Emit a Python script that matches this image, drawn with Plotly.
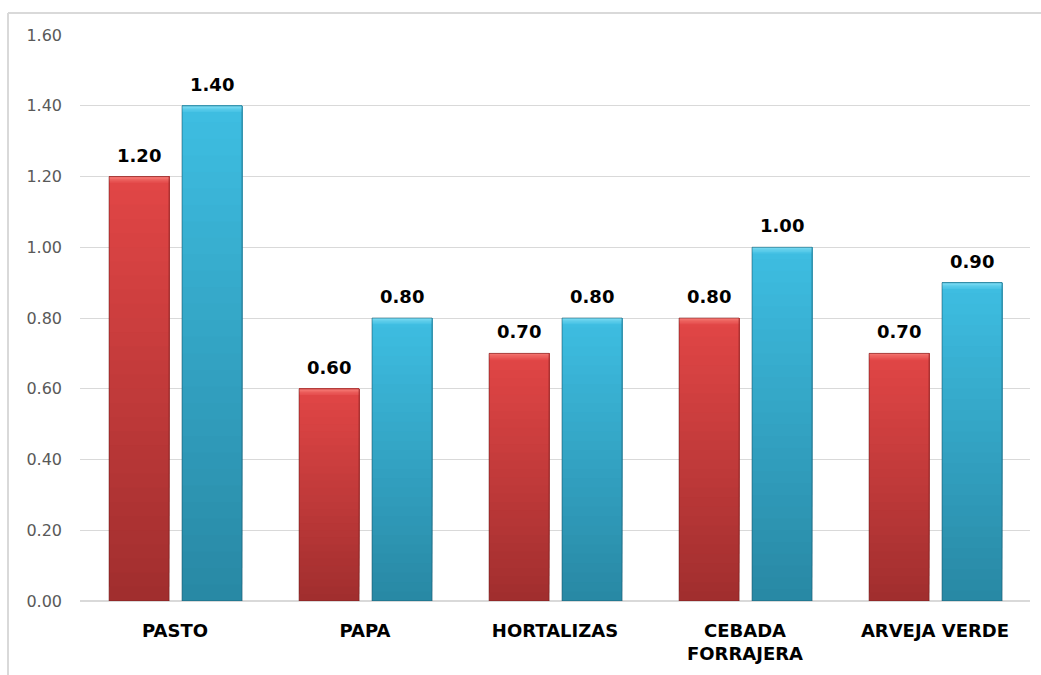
import plotly.graph_objects as go

# Data
categories = ["PASTO", "PAPA", "HORTALIZAS", "CEBADA<br>FORRAJERA", "ARVEJA VERDE"]
serie_roja = [1.20, 0.60, 0.70, 0.80, 0.70]
serie_azul = [1.40, 0.80, 0.80, 1.00, 0.90]
y_ticks = [0.0, 0.2, 0.4, 0.6, 0.8, 1.0, 1.2, 1.4, 1.6]

# Styling
W, H = 1041, 675
ML, MR, MT, MB = 80, 11, 35, 71
BAR_W = 0.316
OFFSETS = {"roja": -0.347, "azul": 0.037}
N_SEG = 30
HILITE = 0.018

palette = {
    "roja": {"bottom": (160, 46, 46), "top": (226, 70, 70), "hi": (242, 112, 108), "edge": "rgba(110,25,25,0.55)"},
    "azul": {"bottom": (40, 136, 164), "top": (62, 190, 226), "hi": (112, 214, 240), "edge": "rgba(20,80,100,0.55)"},
}


def mix(a, b, t):
    return "rgb({},{},{})".format(*[round(a[i] + (b[i] - a[i]) * t) for i in range(3)])


fig = go.Figure()


def add_series(key, values):
    pal = palette[key]
    off = OFFSETS[key]
    # vertical gradient: overlapping layers, each one running from its base to the bar top
    for k in range(N_SEG):
        t = (k + 0.5) / N_SEG
        fig.add_trace(go.Bar(
            x=categories,
            y=[v * (1 - k / N_SEG) for v in values],
            base=[v * k / N_SEG for v in values],
            offset=off, width=BAR_W,
            marker=dict(color=mix(pal["bottom"], pal["top"], t), line=dict(width=0)),
            hoverinfo="skip", showlegend=False,
        ))
    # bevel highlight along the top edge, fading upwards
    steps = 4
    for j in range(steps):
        h = HILITE * (steps - j) / steps
        fig.add_trace(go.Bar(
            x=categories,
            y=[h] * len(values),
            base=[v - h for v in values],
            offset=off, width=BAR_W,
            marker=dict(color=mix(pal["top"], pal["hi"], (j + 1) / steps), line=dict(width=0)),
            hoverinfo="skip", showlegend=False,
        ))
    # outline
    fig.add_trace(go.Bar(
        x=categories, y=values,
        offset=off, width=BAR_W,
        marker=dict(color="rgba(0,0,0,0)", line=dict(width=1, color=pal["edge"])),
        hovertemplate="%{x}: %{y:.2f}<extra></extra>", showlegend=False,
    ))
    # value labels
    shift = (off + BAR_W / 2) * (W - ML - MR) / len(categories)
    for c, v in zip(categories, values):
        fig.add_annotation(
            x=c, y=v, text="<b>{:.2f}</b>".format(v), showarrow=False,
            xshift=shift, yshift=9, yanchor="bottom",
            font=dict(family="DejaVu Sans", size=18, color="#000000"),
        )


add_series("roja", serie_roja)
add_series("azul", serie_azul)

# outer frame lines (top and left)
pw, ph = W - ML - MR, H - MT - MB
px = lambda p: (p - ML) / pw
py = lambda p: (H - MB - p) / ph
frame = dict(color="#D9D9D9", width=2)
fig.add_shape(type="line", xref="paper", yref="paper", x0=px(8), x1=px(W + 5), y0=py(13), y1=py(13), line=frame)
fig.add_shape(type="line", xref="paper", yref="paper", x0=px(8), x1=px(8), y0=py(13), y1=py(H + 5), line=frame)

fig.update_layout(
    width=W, height=H,
    margin=dict(l=ML, r=MR, t=MT, b=MB),
    barmode="overlay",
    paper_bgcolor="white", plot_bgcolor="white",
    xaxis=dict(
        type="category", showgrid=False, showline=False, ticks="",
        tickfont=dict(family="DejaVu Sans", size=18, color="#000000", weight="bold"),
        ticklabelstandoff=17,
    ),
    yaxis=dict(
        range=[0, 1.6], tickvals=y_ticks, tickformat=".2f",
        showgrid=True, gridcolor="#D9D9D9", gridwidth=1,
        zeroline=True, zerolinecolor="#D9D9D9", zerolinewidth=1.5,
        showline=False, ticks="",
        tickfont=dict(family="DejaVu Sans", size=16, color="#595959"),
        ticklabelstandoff=17,
    ),
    font=dict(family="DejaVu Sans"),
)

fig.write_html("out.html")
